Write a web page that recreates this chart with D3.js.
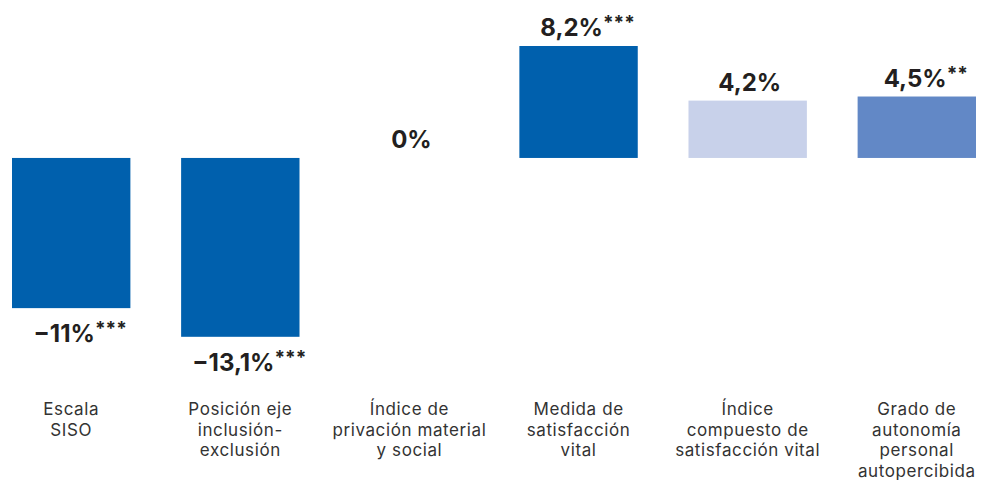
<!DOCTYPE html>
<html>
<head>
<meta charset="utf-8">
<script src="https://cdn.jsdelivr.net/npm/d3@7"></script>
<style>
  html, body { margin: 0; padding: 0; background: #fff; }
  svg { display: block; }
</style>
</head>
<body>
<svg id="chart" width="989" height="480"></svg>
<script>
// Categories (each entry is a list of label lines)
const categories = [
  ["Escala", "SISO"],
  ["Posición eje", "inclusión-", "exclusión"],
  ["Índice de", "privación material", "y social"],
  ["Medida de", "satisfacción", "vital"],
  ["Índice", "compuesto de", "satisfacción vital"],
  ["Grado de", "autonomía", "personal", "autopercibida"]
];
// Percentage change for each indicator
const values = [-11, -13.1, 0, 8.2, 4.2, 4.5];
// Displayed value labels and significance stars
const valueLabels = ["−11%", "−13,1%", "0%", "8,2%", "4,2%", "4,5%"];
const stars = ["***", "***", "", "***", "", "**"];
// Fill per bar
const barColors = ["#0060ad", "#0060ad", "#0060ad", "#0060ad", "#c8d1ea", "#6288c6"];

const svg = d3.select("#chart");
const ids = categories.map((c, i) => i);

const x = d3.scaleBand()
  .domain(ids)
  .range([12, 976])
  .paddingInner(0.3)
  .paddingOuter(0);

const y = d3.scaleLinear()
  .domain([-13.1, 8.2])
  .range([336.8, 46]);

const font = "Inter, 'Noto Sans', sans-serif";

// Bars
svg.append("g").selectAll("rect")
  .data(values)
  .join("rect")
  .attr("x", (d, i) => x(i))
  .attr("width", x.bandwidth())
  .attr("y", d => Math.min(y(d), y(0)))
  .attr("height", d => Math.abs(y(d) - y(0)))
  .attr("fill", (d, i) => barColors[i]);

// Value labels (number plus superscript significance stars)
const vl = svg.append("g").selectAll("text")
  .data(values)
  .join("text")
  .attr("x", (d, i) => x(i) + x.bandwidth() / 2 + (stars[i] ? 9 : 2))
  .attr("y", d => d < 0 ? y(d) + 34 : y(d) - 10)
  .attr("text-anchor", "middle")
  .attr("font-family", font)
  .attr("font-weight", 700)
  .attr("font-size", 24)
  .attr("fill", "#231f20");

vl.append("tspan").text((d, i) => valueLabels[i]);
vl.append("tspan")
  .attr("font-size", 19)
  .attr("dy", -7)
  .text((d, i) => stars[i]);

// Category labels
const cl = svg.append("g").selectAll("text")
  .data(categories)
  .join("text")
  .attr("x", (d, i) => x(i) + x.bandwidth() / 2)
  .attr("y", 415)
  .attr("text-anchor", "middle")
  .attr("font-family", font)
  .attr("font-size", 17)
  .attr("letter-spacing", 0.6)
  .attr("fill", "#333333");

cl.selectAll("tspan")
  .data(d => d)
  .join("tspan")
  .attr("x", function() { return this.parentNode.getAttribute("x"); })
  .attr("dy", (d, j) => j === 0 ? 0 : 20.7)
  .text(d => d);
</script>
</body>
</html>
